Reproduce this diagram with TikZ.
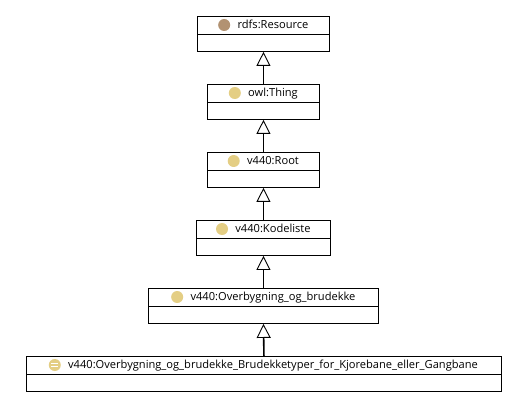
\documentclass[tikz,border=0pt]{standalone}
\usepackage{fontspec}
\setmainfont{Open Sans}
\usetikzlibrary{arrows.meta}
\definecolor{icobrown}{RGB}{178,146,114}
\definecolor{icoyellow}{RGB}{228,206,132}
\tikzset{
  box/.style={draw=black, line width=0.9pt, minimum height=35pt, inner sep=0pt, anchor=north west},
  ttl/.style={font=\fontsize{11.1}{13}\selectfont, inner sep=0pt, text height=8.5pt, text depth=2.3pt},
  ico/.style={circle, inner sep=0pt, minimum size=12pt, fill=#1},
  isa/.style={line width=1.6pt, -{Triangle[fill=white, width=14pt, length=14pt, line width=0.9pt]}},
  divider/.style={line width=0.9pt}
}
\begin{document}
\begin{tikzpicture}[x=1pt,y=-1pt]
\fill[white] (0,0) rectangle (521,403);
\useasboundingbox (0,0) rectangle (521,403);
% boxes
\node[box, minimum width=132pt] (b1) at (197,16) {};
\node[box, minimum width=112pt] (b2) at (207,84) {};
\node[box, minimum width=112pt] (b3) at (207,152) {};
\node[box, minimum width=134pt] (b4) at (196,220) {};
\node[box, minimum width=230pt] (b5) at (148,288) {};
\node[box, minimum width=475pt] (b6) at (26,356) {};
% dividers
\foreach \b in {b1,b2,b3,b4,b5,b6}{
  \draw[divider] ([yshift=-18pt]\b.north west) -- ([yshift=-18pt]\b.north east);
}
% titles
\node[ttl] (t1) at (273,25) {rdfs:Resource};
\node[ttl] (t2) at (273,93) {owl:Thing};
\node[ttl] (t3) at (273,161) {v440:Root};
\node[ttl] (t4) at (273,229) {v440:Kodeliste};
\node[ttl] (t5) at (273,297) {v440:Overbygning\_og\_brudekke};
\node[ttl] (t6) at (273,365) {v440:Overbygning\_og\_brudekke\_Brudekketyper\_for\_Kjorebane\_eller\_Gangbane};
% icons
\node[ico=icobrown, anchor=east] (i1) at ([xshift=-7pt]t1.west) {};
\node[ico=icoyellow, anchor=east] (i2) at ([xshift=-7pt]t2.west) {};
\node[ico=icoyellow, anchor=east] (i3) at ([xshift=-7pt]t3.west) {};
\node[ico=icoyellow, anchor=east] (i4) at ([xshift=-7pt]t4.west) {};
\node[ico=icoyellow, anchor=east] (i5) at ([xshift=-7pt]t5.west) {};
\node[ico=icoyellow, anchor=east] (i6) at ([xshift=-7pt]t6.west) {};
\draw[white, line width=1.1pt] ([shift={(-3.5pt,1.8pt)}]i6.center) -- ([shift={(3.5pt,1.8pt)}]i6.center);
\draw[white, line width=1.1pt] ([shift={(-3.5pt,-1.8pt)}]i6.center) -- ([shift={(3.5pt,-1.8pt)}]i6.center);
% inheritance
\draw[isa] (b2.north) -- (b1.south);
\draw[isa] (b3.north) -- (b2.south);
\draw[isa] (b4.north) -- (b3.south);
\draw[isa] (b5.north) -- (b4.south);
\draw[isa] (b6.north) -- (b5.south);
\end{tikzpicture}
\end{document}
